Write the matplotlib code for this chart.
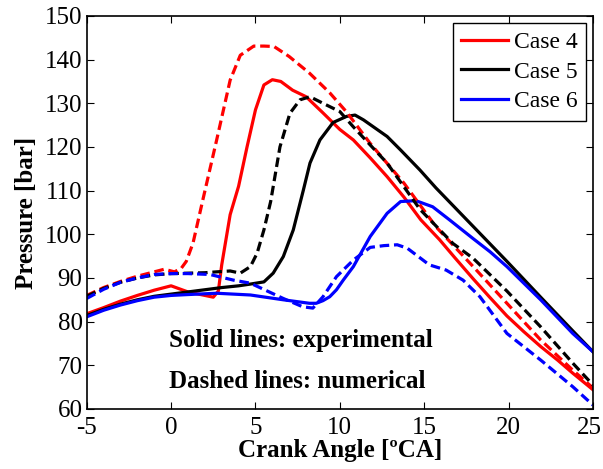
import matplotlib
matplotlib.use('Agg')
import matplotlib.pyplot as plt
import matplotlib.transforms as mtransforms

plt.rcParams['font.family'] = ['Liberation Serif', 'DejaVu Serif']
plt.rcParams['axes.unicode_minus'] = False

# Case 4 (red)
case4_exp_x = [-5, -4, -3, -2, -1, 0, 1, 2, 2.5, 2.8, 3.0, 3.5, 4.0, 4.5, 5.0, 5.5, 6.0,
               6.5, 7.2, 8.0, 9.0, 10.0, 10.8, 11.8, 12.8, 13.8, 14.8, 15.9, 16.8, 17.9,
               18.9, 19.9, 20.9, 21.9, 22.9, 23.8, 25]
case4_exp_y = [81.8, 83.2, 84.7, 86.0, 87.2, 88.2, 86.8, 86.0, 85.6, 87.0, 93.0, 104.5,
               111.0, 120.0, 128.5, 134.2, 135.4, 135.0, 133.0, 131.5, 127.8, 124.0, 121.6,
               117.5, 113.2, 108.5, 103.3, 98.8, 94.7, 89.8, 85.5, 81.3, 77.7, 74.3, 71.2,
               68.2, 64.4]
case4_num_x = [-5, -4, -3, -2, -1, -0.4, 0.2, 0.6, 0.9, 1.3, 1.9, 2.7, 3.5, 4.1, 4.9, 5.5,
               6.1, 7.0, 8.2, 9.4, 10.4, 11.8, 13.8, 15.7, 17.9, 19.9, 21.9, 23.8, 25]
case4_num_y = [86.0, 87.8, 89.2, 90.4, 91.4, 92.0, 91.4, 92.2, 93.8, 98.0, 108.2, 121.6,
               135.3, 141.0, 143.1, 143.1, 143.0, 140.7, 136.9, 132.4, 128.0, 120.8, 111.7,
               101.7, 92.6, 84.2, 75.8, 68.9, 64.8]

# Case 5 (black)
case5_exp_x = [-5, -4, -3, -2, -1, 0, 1, 2, 3, 4, 4.7, 5.5, 6.05, 6.65, 7.24, 7.83, 8.23,
               8.82, 9.6, 10.4, 10.9, 11.4, 12.8, 13.6, 14.75, 15.7, 17.9, 19.9, 21.9,
               23.8, 25]
case5_exp_y = [81.4, 82.8, 84.0, 85.0, 85.8, 86.3, 86.8, 87.3, 87.8, 88.2, 88.6, 89.1,
               91.1, 94.9, 101.0, 110.0, 116.3, 121.6, 125.6, 127.0, 127.3, 126.2, 122.4,
               119.3, 114.7, 110.6, 101.8, 93.8, 85.6, 77.9, 73.1]
case5_num_x = [-5, -4, -3, -2, -1, 0, 1, 2, 2.7, 3.5, 4.1, 4.7, 5.1, 5.5, 5.9, 6.45, 7.04,
               7.64, 8.23, 9.0, 10.0, 10.8, 12.8, 14.75, 16.7, 17.9, 19.9, 21.9, 23.8, 25]
case5_num_y = [85.8, 87.6, 89.0, 90.0, 90.7, 91.0, 91.1, 91.2, 91.4, 91.6, 91.1, 92.6,
               95.7, 101.0, 107.5, 120.0, 127.7, 130.8, 131.5, 130.0, 128.1, 124.6, 116.3,
               105.7, 97.9, 94.5, 87.0, 78.8, 70.5, 65.5]

# Case 6 (blue)
case6_exp_x = [-5, -4, -3, -2, -1, 0, 1, 2.7, 4.7, 6.65, 8.2, 8.6, 9.0, 9.4, 9.8, 10.2,
               10.8, 11.8, 12.8, 13.6, 14.5, 15.5, 16.5, 17.9, 18.9, 19.9, 21.9, 23.8, 25]
case6_exp_y = [81.1, 82.6, 83.8, 84.8, 85.6, 86.0, 86.2, 86.5, 86.1, 85.0, 84.2, 84.2,
               84.8, 85.7, 87.3, 89.5, 92.6, 99.5, 104.8, 107.5, 107.7, 106.3, 103.3, 99.0,
               96.0, 92.6, 85.0, 77.3, 73.1]
case6_num_x = [-5, -4, -3, -2, -1, 0, 1, 2.3, 3.7, 4.7, 6.65, 7.8, 8.4, 9.0, 9.8, 10.8,
               11.8, 12.6, 13.4, 14.0, 15.3, 16.3, 17.3, 18.3, 19.9, 21.9, 23.8, 25]
case6_num_y = [85.3, 87.4, 89.0, 90.0, 90.8, 91.0, 91.0, 90.8, 89.5, 88.8, 85.3, 83.4,
               83.1, 85.7, 90.3, 94.1, 97.0, 97.4, 97.6, 96.8, 93.0, 91.8, 89.5, 85.7,
               77.3, 71.2, 65.1, 60.9]

x_ticks = [-5, 0, 5, 10, 15, 20, 25]
y_ticks = [60, 70, 80, 90, 100, 110, 120, 130, 140, 150]

fig = plt.figure(figsize=(6.03, 4.69), dpi=100)
ax = fig.add_axes([0.1438, 0.128, 0.8396, 0.838])

lw = 2.3
dash = (3.0, 1.5)
ax.plot(case4_exp_x, case4_exp_y, color='red', lw=lw, label='Case 4')
ax.plot(case5_exp_x, case5_exp_y, color='black', lw=lw, label='Case 5')
ax.plot(case6_exp_x, case6_exp_y, color='blue', lw=lw, label='Case 6')
ax.plot(case4_num_x, case4_num_y, color='red', lw=lw, ls='--', dashes=dash)
ax.plot(case5_num_x, case5_num_y, color='black', lw=lw, ls='--', dashes=dash)
ax.plot(case6_num_x, case6_num_y, color='blue', lw=lw, ls='--', dashes=dash)

ax.set_xlim(-5, 25)
ax.set_ylim(60, 150)
ax.set_xticks(x_ticks)
ax.set_yticks(y_ticks)
ax.tick_params(direction='in', top=True, right=True, labelsize=18, length=5, width=0.8)
ax.tick_params(axis='x', pad=6)
ax.tick_params(axis='y', pad=3)
for s in ax.spines.values():
    s.set_linewidth(1.2)

# last x tick label sits on the figure edge, pull it in a little
last = ax.get_xticklabels()[-1]
last.set_transform(last.get_transform() +
                   mtransforms.ScaledTranslation(-4 / 100, 0, fig.dpi_scale_trans))

ax.set_xlabel('Crank Angle [ºCA]', fontsize=18, fontweight='bold', labelpad=0)
ax.set_ylabel('Pressure [bar]', fontsize=18, fontweight='bold', labelpad=5)

ax.text(-0.1, 75.6, 'Solid lines: experimental', fontsize=18, fontweight='bold', va='center')
ax.text(-0.1, 66.2, 'Dashed lines: numerical', fontsize=18, fontweight='bold', va='center')

leg = ax.legend(loc='upper right', fontsize=17, fancybox=False, framealpha=1,
                edgecolor='black', handlelength=2.0, handletextpad=0.25,
                borderaxespad=0.3, labelspacing=0.35, borderpad=0.35)
leg.get_frame().set_linewidth(1.0)

fig.savefig('out.png', dpi=100)
